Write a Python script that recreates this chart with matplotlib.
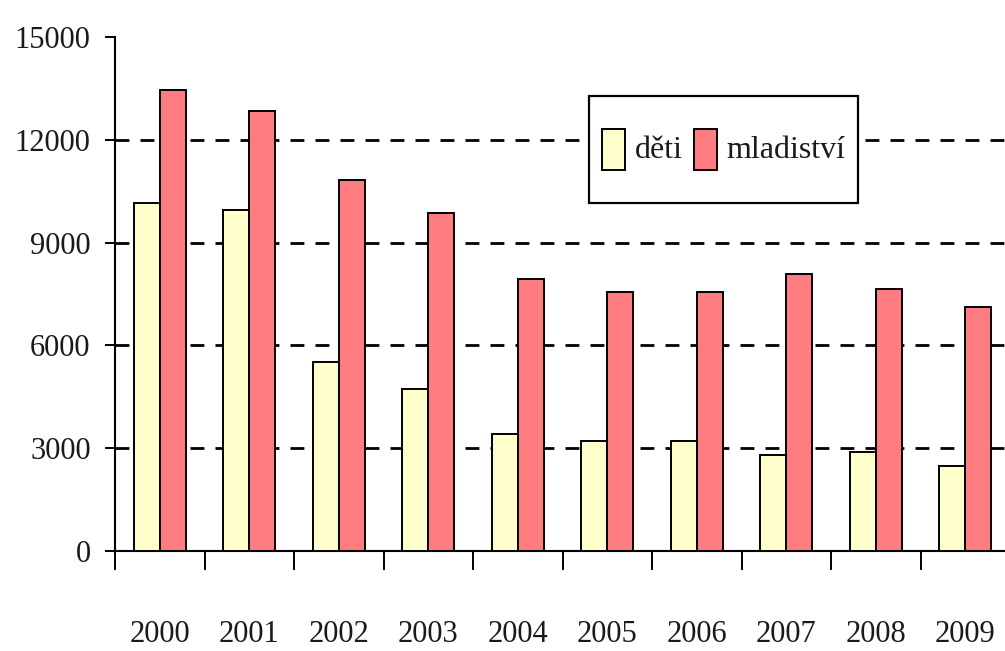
import matplotlib
matplotlib.use("Agg")
import matplotlib.pyplot as plt
from matplotlib.patches import Rectangle
from matplotlib.legend_handler import HandlerPatch, update_from_first_child
from matplotlib.container import BarContainer
import numpy as np

years = ["2000", "2001", "2002", "2003", "2004", "2005", "2006", "2007", "2008", "2009"]
deti = [10170, 9960, 5510, 4740, 3400, 3210, 3210, 2790, 2880, 2470]
mladistvi = [13450, 12840, 10820, 9870, 7950, 7550, 7550, 8070, 7650, 7130]
yticks = [0, 3000, 6000, 9000, 12000, 15000]
grid_levels = [3000, 6000, 9000, 12000]
labels = ["děti", "mladiství"]

plt.rcParams['font.family'] = ['Liberation Serif', 'DejaVu Serif']

fig = plt.figure(figsize=(10.05, 6.51), dpi=100)
ax = fig.add_axes([115/1005, 100/651, 895/1005, 514/651])

x = np.arange(len(years))
w = 0.29
ax.bar(x - w/2, deti, width=w, color="#FFFFCC", edgecolor="black", linewidth=1.4, zorder=3, label=labels[0])
ax.bar(x + w/2, mladistvi, width=w, color="#FF7C80", edgecolor="black", linewidth=1.4, zorder=3, label=labels[1])

for g in grid_levels:
    ax.axhline(g, color="black", linewidth=2.0, dashes=(5, 4), zorder=1)

ax.set_xlim(-0.5, len(years) - 0.5)
ax.set_ylim(0, 15000)
ax.set_yticks(yticks)
ax.set_yticklabels([str(v) for v in yticks])

ax.set_xticks(np.arange(len(years) + 1) - 0.5)
ax.set_xticklabels([])
ax.set_xticks(x, minor=True)
ax.set_xticklabels(years, minor=True)

ax.tick_params(axis='x', which='major', direction='out', length=14, width=1.4, color='black')
ax.tick_params(axis='x', which='minor', length=0, pad=50, labelsize=22, labelcolor="#1a1a1a")
ax.tick_params(axis='y', direction='out', length=7.5, width=1.4, pad=10, labelsize=22, labelcolor="#1a1a1a")

for s in ["top", "right"]:
    ax.spines[s].set_visible(False)
for s in ["left", "bottom"]:
    ax.spines[s].set_linewidth(1.5)


def short_rect(legend, orig_handle, xdescent, ydescent, width, height, fontsize):
    h = 1.3 * fontsize
    return Rectangle((-xdescent, -ydescent + (height - h) / 2), width, h)


handler = HandlerPatch(patch_func=short_rect, update_func=update_from_first_child)
leg = ax.legend(loc="center", bbox_to_anchor=(0.68, 0.781), ncol=2, fontsize=23,
                frameon=True, fancybox=False, edgecolor="black", framealpha=1,
                handlelength=0.72, handleheight=3.55, handletextpad=0.3,
                columnspacing=0.35, borderpad=0.4, borderaxespad=0,
                handler_map={BarContainer: handler})
leg.get_frame().set_linewidth(1.6)
for t in leg.get_texts():
    t.set_color("#1a1a1a")
for h in leg.legend_handles:
    h.set_linewidth(1.4)

fig.savefig("out.png", dpi=100, facecolor="white")
